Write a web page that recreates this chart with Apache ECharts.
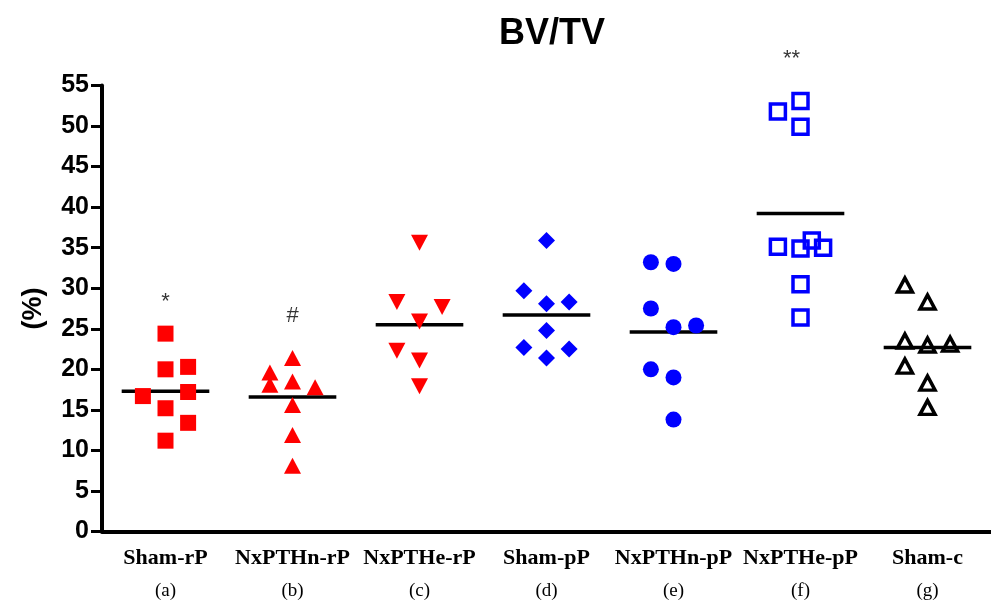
<!DOCTYPE html>
<html>
<head>
<meta charset="utf-8">
<script src="https://cdn.jsdelivr.net/npm/echarts@6/dist/echarts.min.js"></script>
<style>
  html, body { margin: 0; padding: 0; background: #fff; }
  #chart { width: 991px; height: 604px; }
</style>
</head>
<body>
<div id="chart"></div>
<script>
// groups on the x axis
var groups = ['Sham-rP', 'NxPTHn-rP', 'NxPTHe-rP', 'Sham-pP', 'NxPTHn-pP', 'NxPTHe-pP', 'Sham-c'];
var groupTags = ['(a)', '(b)', '(c)', '(d)', '(e)', '(f)', '(g)'];
var yTicks = [0, 5, 10, 15, 20, 25, 30, 35, 40, 45, 50, 55];

// BV/TV values (%) per group, with the column each point sits in (-1 left, 0 centre, 1 right)
var shamRP = [24.4, 20.0, 20.3, 16.7, 17.2, 15.2, 13.4, 11.2];
var shamRPCol = [0, 0, 1, -1, 1, 0, 1, 0];
var nxnRP = [21.4, 19.6, 18.1, 18.5, 17.8, 15.6, 11.9, 8.1];
var nxnRPCol = [0, -1, -1, 0, 1, 0, 0, 0];
var nxeRP = [35.6, 28.3, 27.7, 25.9, 22.3, 21.1, 17.9];
var nxeRPCol = [0, -1, 1, 0, -1, 0, 0];
var shamPP = [35.9, 29.7, 28.1, 28.3, 24.8, 22.7, 22.5, 21.4];
var shamPPCol = [0, -1, 0, 1, 0, -1, 1, 0];
var nxnPP = [33.2, 33.0, 27.5, 25.2, 25.4, 20.0, 19.0, 13.8];
var nxnPPCol = [-1, 0, -1, 0, 1, -1, 0, 0];
var nxePP = [53.1, 51.8, 49.9, 35.1, 34.9, 35.9, 35.0, 30.5, 26.4];
var nxePPCol = [0, -1, 0, -1, 0, 0.5, 1, 0, 0];
var shamC = [30.4, 28.3, 23.5, 23.0, 23.1, 20.4, 18.3, 15.3];
var shamCCol = [-1, 0, -1, 0, 1, -1, 0, 0];

// group means (horizontal bars)
var means = [17.3, 16.6, 25.5, 26.7, 24.6, 39.2, 22.7];

// significance marks
var marks = ['*', '#', '**'];
var markGroup = [0, 1, 4.93];
var markY = [28.3, 26.6, 58.3];

var colStep = 0.178;
var barHalf = 0.345;

function pts(g, vals, cols) {
    var out = [];
    for (var i = 0; i < vals.length; i++) {
        out.push([g + cols[i] * colStep, vals[i]]);
    }
    return out;
}

function dots(g, vals, cols, symbol, size, style, rotate) {
    style.opacity = 1;
    return {
        type: 'scatter',
        xAxisIndex: 1,
        data: pts(g, vals, cols),
        symbol: symbol,
        symbolSize: size,
        symbolRotate: rotate || 0,
        itemStyle: style,
        silent: true,
        z: 3
    };
}

var red = '#ff0000', blue = '#0000ff';

var meanData = means.map(function (m, i) { return [i, m]; });
var markData = marks.map(function (t, i) { return [markGroup[i], markY[i], t]; });

var option = {
    animation: false,
    title: {
        text: 'BV/TV',
        left: 494,
        top: 11,
        textStyle: { fontFamily: 'Liberation Sans, Arial', fontWeight: 'bold', fontSize: 36, color: '#000' }
    },
    grid: { left: 102, right: -3, top: 85.5, bottom: 72.5 },
    xAxis: [{
        type: 'category',
        data: groups,
        axisLine: { lineStyle: { color: '#000', width: 4 } },
        axisTick: { alignWithLabel: true, length: 12, lineStyle: { color: '#000', width: 3 } },
        axisLabel: {
            interval: 0,
            margin: 13,
            formatter: function (v, i) {
                return '{n|' + v + '}\n{s|' + groupTags[i] + '}';
            },
            rich: {
                n: { fontFamily: 'Liberation Serif, Times New Roman', fontWeight: 'bold', fontSize: 22, lineHeight: 28, color: '#000' },
                s: { fontFamily: 'Liberation Serif, Times New Roman', fontSize: 19, lineHeight: 38, color: '#000' }
            }
        },
        splitLine: { show: false }
    }, {
        type: 'value',
        min: -0.5,
        max: 6.5,
        show: false
    }],
    yAxis: {
        type: 'value',
        min: 0,
        max: 55,
        interval: 5,
        name: '(%)',
        nameLocation: 'middle',
        nameGap: 55,
        nameTextStyle: { fontFamily: 'Liberation Sans, Arial', fontWeight: 'bold', fontSize: 27, color: '#000' },
        axisLine: { show: true, onZero: false, lineStyle: { color: '#000', width: 4 } },
        axisTick: { show: true, length: 11, lineStyle: { color: '#000', width: 3 } },
        axisLabel: {
            margin: 13,
            fontFamily: 'Liberation Sans, Arial',
            fontWeight: 'bold',
            fontSize: 25,
            color: '#000',
            formatter: function (v) { return yTicks.indexOf(v) >= 0 ? String(v) : ''; }
        },
        splitLine: { show: false }
    },
    series: [
        dots(0, shamRP, shamRPCol, 'rect', 16, { color: red }),
        dots(1, nxnRP, nxnRPCol, 'triangle', [17, 16], { color: red }),
        dots(2, nxeRP, nxeRPCol, 'triangle', [17, 16], { color: red }, 180),
        dots(3, shamPP, shamPPCol, 'diamond', [17, 17], { color: blue }),
        dots(4, nxnPP, nxnPPCol, 'circle', 16, { color: blue }),
        dots(5, nxePP, nxePPCol, 'rect', 15, { color: 'rgba(0,0,0,0)', borderColor: blue, borderWidth: 3.5 }),
        dots(6, shamC, shamCCol, 'triangle', [15, 14], { color: 'rgba(0,0,0,0)', borderColor: '#000', borderWidth: 3.5 }),
        {
            type: 'custom',
            xAxisIndex: 1,
            data: meanData,
            silent: true,
            z: 2,
            renderItem: function (params, api) {
                var g = api.value(0), m = api.value(1);
                var p1 = api.coord([g - barHalf, m]);
                var p2 = api.coord([g + barHalf, m]);
                return {
                    type: 'line',
                    shape: { x1: p1[0], y1: p1[1], x2: p2[0], y2: p2[1] },
                    style: { stroke: '#000', lineWidth: 3.5 }
                };
            }
        },
        {
            type: 'scatter',
            xAxisIndex: 1,
            data: markData,
            symbolSize: 0,
            clip: false,
            silent: true,
            label: {
                show: true,
                position: 'inside',
                formatter: function (p) { return p.value[2]; },
                fontFamily: 'Liberation Sans, Arial',
                fontSize: 22,
                color: '#000'
            }
        }
    ]
};

var myChart = echarts.init(document.getElementById('chart'));
myChart.setOption(option);
</script>
</body>
</html>
